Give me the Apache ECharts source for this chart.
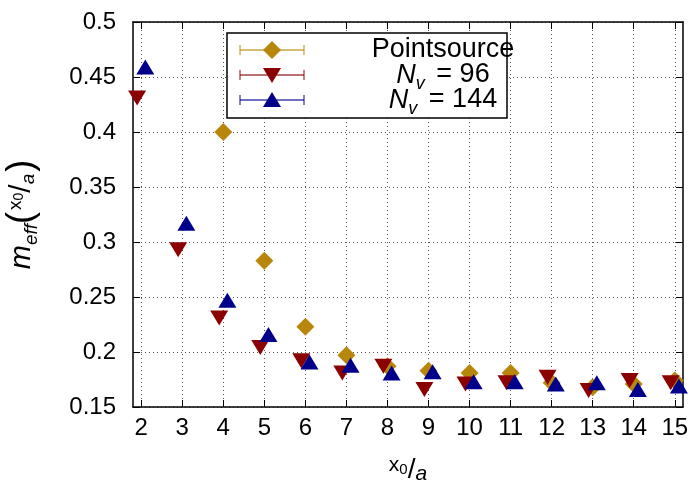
<!DOCTYPE html>
<html>
<head>
<meta charset="utf-8">
<script src="https://cdn.jsdelivr.net/npm/echarts@6/dist/echarts.min.js"></script>
<style>
    html, body { margin: 0; background: #fff; }
    #chart { width: 694px; height: 482px; }
</style>
</head>
<body>
<div id="chart"></div>
<script>
// x0/a values
const x0 = [2, 3, 4, 5, 6, 7, 8, 9, 10, 11, 12, 13, 14, 15];
const xTicks = [2, 3, 4, 5, 6, 7, 8, 9, 10, 11, 12, 13, 14, 15];

// Pointsource (no points for x0 = 2, 3 inside the range)
const pointsource = [null, null, 0.400, 0.283, 0.223, 0.197, 0.187, 0.183, 0.181, 0.181, 0.172, 0.168, 0.171, 0.174];
// N_v = 96
const nv96 = [0.431, 0.293, 0.231, 0.204, 0.192, 0.181, 0.187, 0.166, 0.171, 0.172, 0.177, 0.165, 0.174, 0.172];
// N_v = 144
const nv144 = [0.459, 0.317, 0.247, 0.216, 0.191, 0.188, 0.181, 0.182, 0.173, 0.173, 0.171, 0.172, 0.166, 0.169];

const legendNames = ['Pointsource', 'N_v = 96', 'N_v = 144'];
const colors = ['#b8860b', '#8b0000', '#00008b'];

const FONT = 'Liberation Sans';

// small horizontal shift so the markers of the three sets do not overlap
function pairs(vals, shift) {
    const out = [];
    vals.forEach((v, i) => {
        if (v != null) out.push([x0[i] + shift, v]);
    });
    return out;
}

const chart = echarts.init(document.getElementById('chart'));

const gridLine = { show: true, lineStyle: { color: '#555', type: [1, 3], width: 1 } };
const frame = { show: true, onZero: false, lineStyle: { color: '#000', width: 1.5 } };
const tick = { show: true, inside: true, length: 7, lineStyle: { color: '#000', width: 1 } };

function xAxisOf(pos, labels) {
    return {
        type: 'value', position: pos, min: 1.8, max: 15.2,
        axisLine: frame,
        axisTick: Object.assign({ customValues: xTicks }, tick),
        axisLabel: { show: labels, customValues: xTicks, fontFamily: FONT, fontSize: 24, color: '#000', margin: 9 },
        splitLine: labels ? gridLine : { show: false },
        name: labels ? '{x|x}{s|0}{sl|/}{a|a}' : '',
        nameLocation: 'middle', nameGap: 48,
        nameTextStyle: {
            rich: {
                x: { fontFamily: FONT, fontSize: 21, color: '#000', verticalAlign: 'top', lineHeight: 30 },
                s: { fontFamily: FONT, fontSize: 15, color: '#000', verticalAlign: 'top', lineHeight: 30, padding: [7, 0, 0, 0] },
                sl: { fontFamily: FONT, fontSize: 28, color: '#000', lineHeight: 30 },
                a: { fontFamily: FONT, fontSize: 21, fontStyle: 'italic', color: '#000', verticalAlign: 'bottom', lineHeight: 30 }
            }
        }
    };
}

function yAxisOf(pos, labels) {
    return {
        type: 'value', position: pos, min: 0.15, max: 0.5, interval: 0.05,
        axisLine: frame,
        axisTick: tick,
        axisLabel: { show: labels, fontFamily: FONT, fontSize: 24, color: '#000', margin: 17 },
        splitLine: labels ? gridLine : { show: false },
        name: labels ? '{m|m}{e|eff}{p|(}{x|x}{s|0}{sl|/}{a|a}{p|)}' : '',
        nameLocation: 'middle', nameGap: 92, nameRotate: 90,
        nameTextStyle: {
            rich: {
                m: { fontFamily: FONT, fontSize: 29, fontStyle: 'italic', color: '#000', lineHeight: 38 },
                e: { fontFamily: FONT, fontSize: 19, fontStyle: 'italic', color: '#000', verticalAlign: 'bottom', lineHeight: 38 },
                p: { fontFamily: FONT, fontSize: 36, color: '#000', lineHeight: 38 },
                x: { fontFamily: FONT, fontSize: 19, color: '#000', verticalAlign: 'top', lineHeight: 38, padding: [3, 0, 0, 2] },
                s: { fontFamily: FONT, fontSize: 14, color: '#000', verticalAlign: 'top', lineHeight: 38, padding: [9, 0, 0, 0] },
                sl: { fontFamily: FONT, fontSize: 30, color: '#000', lineHeight: 38 },
                a: { fontFamily: FONT, fontSize: 19, fontStyle: 'italic', color: '#000', verticalAlign: 'bottom', lineHeight: 38, padding: [0, 2, 3, 0] }
            }
        }
    };
}

// legend drawn by hand: error-bar line with caps plus marker, text centred
const legendRows = [50, 75, 100];
const legendGraphics = [{
    type: 'rect', shape: { x: 227, y: 33, width: 280, height: 85 },
    style: { fill: '#fff', stroke: '#000', lineWidth: 1.5 }, z: 100
}];
const markerShapes = [
    cy => ({ type: 'polygon', shape: { points: [[272, cy - 9], [281, cy], [272, cy + 9], [263, cy]] } }),
    cy => ({ type: 'polygon', shape: { points: [[263, cy - 7], [281, cy - 7], [272, cy + 8]] } }),
    cy => ({ type: 'polygon', shape: { points: [[263, cy + 7], [281, cy + 7], [272, cy - 8]] } })
];
legendRows.forEach((cy, i) => {
    legendGraphics.push(
        { type: 'line', shape: { x1: 240, y1: cy, x2: 304, y2: cy }, style: { stroke: colors[i], lineWidth: 1.3, opacity: 0.75 }, z: 101 },
        { type: 'line', shape: { x1: 240, y1: cy - 5, x2: 240, y2: cy + 5 }, style: { stroke: colors[i], lineWidth: 1.3, opacity: 0.75 }, z: 101 },
        { type: 'line', shape: { x1: 304, y1: cy - 5, x2: 304, y2: cy + 5 }, style: { stroke: colors[i], lineWidth: 1.3, opacity: 0.75 }, z: 101 },
        Object.assign(markerShapes[i](cy), { style: { fill: colors[i] }, z: 102 })
    );
});
const legendTexts = ['Pointsource', '{i|N}{v|v}{t| = 96}', '{i|N}{v|v}{t| = 144}'];
legendRows.forEach((cy, i) => {
    legendGraphics.push({
        type: 'text', x: 443, y: cy, z: 103,
        style: {
            text: legendTexts[i], align: 'center', verticalAlign: 'middle',
            fontFamily: FONT, fontSize: 27, fill: '#000',
            rich: {
                i: { fontFamily: FONT, fontSize: 27, fontStyle: 'italic', lineHeight: 26 },
                v: { fontFamily: FONT, fontSize: 18, fontStyle: 'italic', verticalAlign: 'bottom', lineHeight: 26, padding: [0, 4, -5, 0] },
                t: { fontFamily: FONT, fontSize: 27, lineHeight: 26 }
            }
        }
    });
});

chart.setOption({
    backgroundColor: '#fff',
    animation: false,
    grid: { left: 133, right: 11, top: 22, bottom: 75, outerBoundsMode: 'none' },
    xAxis: [xAxisOf('bottom', true), xAxisOf('top', false)],
    yAxis: [yAxisOf('left', true), yAxisOf('right', false)],
    graphic: legendGraphics,
    series: [
        {
            name: legendNames[0], type: 'scatter', data: pairs(pointsource, 0),
            symbol: 'diamond', symbolSize: [18, 18], itemStyle: { color: colors[0], opacity: 1 }, z: 3
        },
        {
            name: legendNames[1], type: 'scatter', data: pairs(nv96, -0.1),
            symbol: 'triangle', symbolRotate: 180, symbolSize: [18, 15], itemStyle: { color: colors[1], opacity: 1 }, z: 4
        },
        {
            name: legendNames[2], type: 'scatter', data: pairs(nv144, 0.1),
            symbol: 'triangle', symbolSize: [18, 15], itemStyle: { color: colors[2], opacity: 1 }, z: 5
        }
    ]
});
</script>
</body>
</html>
